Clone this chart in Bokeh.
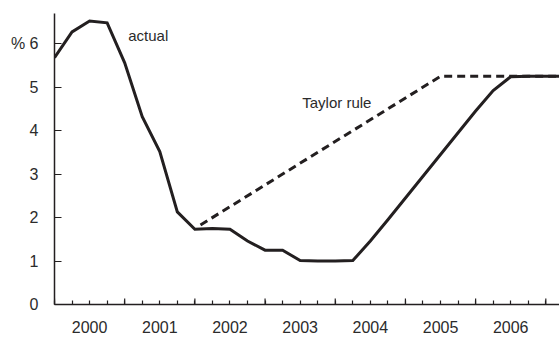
from bokeh.plotting import figure
from bokeh.models import FixedTicker, Label
from bokeh.embed import file_html
from bokeh.resources import INLINE

# ---- data ----
actual_x = [2000.0, 2000.25, 2000.5, 2000.75,
            2001.0, 2001.25, 2001.5, 2001.75,
            2002.0, 2002.25, 2002.5, 2002.75,
            2003.0, 2003.25, 2003.5, 2003.75,
            2004.0, 2004.25, 2004.5, 2004.75,
            2005.0, 2005.25, 2005.5, 2005.75,
            2006.0, 2006.25, 2006.5, 2006.75,
            2007.0, 2007.25]
actual_y = [5.68, 6.27, 6.52, 6.48,
            5.56, 4.32, 3.52, 2.13,
            1.73, 1.75, 1.73, 1.46,
            1.25, 1.25, 1.01, 1.00,
            1.00, 1.01, 1.46, 1.95,
            2.45, 2.95, 3.45, 3.95,
            4.45, 4.92, 5.24, 5.25,
            5.25, 5.25]
taylor_x = [2002.08, 2005.5, 2007.25]
taylor_y = [1.83, 5.25, 5.25]

years = [2000, 2001, 2002, 2003, 2004, 2005, 2006]
year_bounds = [2000, 2001, 2002, 2003, 2004, 2005, 2006, 2007]
quarters = [2000 + q / 4 for q in range(0, 29)]
y_ticks = [0, 1, 2, 3, 4, 5, 6]

INK = "#231f20"
LABEL_INK = "#2b2b2b"
FONT = "Liberation Sans"
Y_TOP = 6.694
BOUND_TICK = 0.14  # length of the year-boundary ticks, in y units (~6px)

p = figure(width=559, height=337, x_range=(2000, 2007.195), y_range=(0, Y_TOP),
           output_backend="svg", toolbar_location=None,
           min_border_left=54, min_border_right=0, min_border_top=13, min_border_bottom=33)
p.outline_line_color = None
p.xgrid.visible = False
p.ygrid.visible = False
p.background_fill_color = "white"

# year-boundary ticks (longer than quarter ticks)
p.segment(x0=year_bounds, y0=[0] * len(year_bounds), x1=year_bounds,
          y1=[BOUND_TICK] * len(year_bounds), line_color=INK, line_width=1.2)

# lines
p.line(taylor_x, taylor_y, line_color=INK, line_width=3, line_dash="8 5")
p.line(actual_x, actual_y, line_color=INK, line_width=3, line_join="miter")

# x axis: labels at mid-year, minor quarter ticks
xa = p.xaxis[0]
mids = [y + 0.5 for y in years]
xa.ticker = FixedTicker(ticks=mids, minor_ticks=quarters)
xa.major_label_overrides = {m: str(y) for m, y in zip(mids, years)}
xa.major_tick_in = 0
xa.major_tick_out = 0
xa.minor_tick_in = 4
xa.minor_tick_out = 0
xa.axis_line_color = INK
xa.axis_line_width = 1.5
xa.minor_tick_line_color = INK
xa.minor_tick_line_width = 1.2
xa.major_label_text_font = FONT
xa.major_label_text_font_size = "16px"
xa.major_label_text_color = LABEL_INK
xa.major_label_standoff = 16

# y axis
ya = p.yaxis[0]
ya.ticker = FixedTicker(ticks=y_ticks)
ya.major_label_overrides = {6: "% 6"}
ya.major_tick_in = 7
ya.major_tick_out = 0
ya.minor_tick_in = 0
ya.minor_tick_out = 0
ya.axis_line_color = INK
ya.axis_line_width = 1.5
ya.major_tick_line_color = INK
ya.major_tick_line_width = 1.2
ya.major_label_text_font = FONT
ya.major_label_text_font_size = "16px"
ya.major_label_text_color = LABEL_INK
ya.major_label_standoff = 16

# series labels
p.add_layout(Label(x=2001.05, y=6.18, text="actual", text_font=FONT,
                   text_font_size="15px", text_color=LABEL_INK, text_baseline="middle"))
p.add_layout(Label(x=2003.53, y=4.65, text="Taylor rule", text_font=FONT,
                   text_font_size="15px", text_color=LABEL_INK, text_baseline="middle"))

open("out.html", "w").write(file_html(p, INLINE))
